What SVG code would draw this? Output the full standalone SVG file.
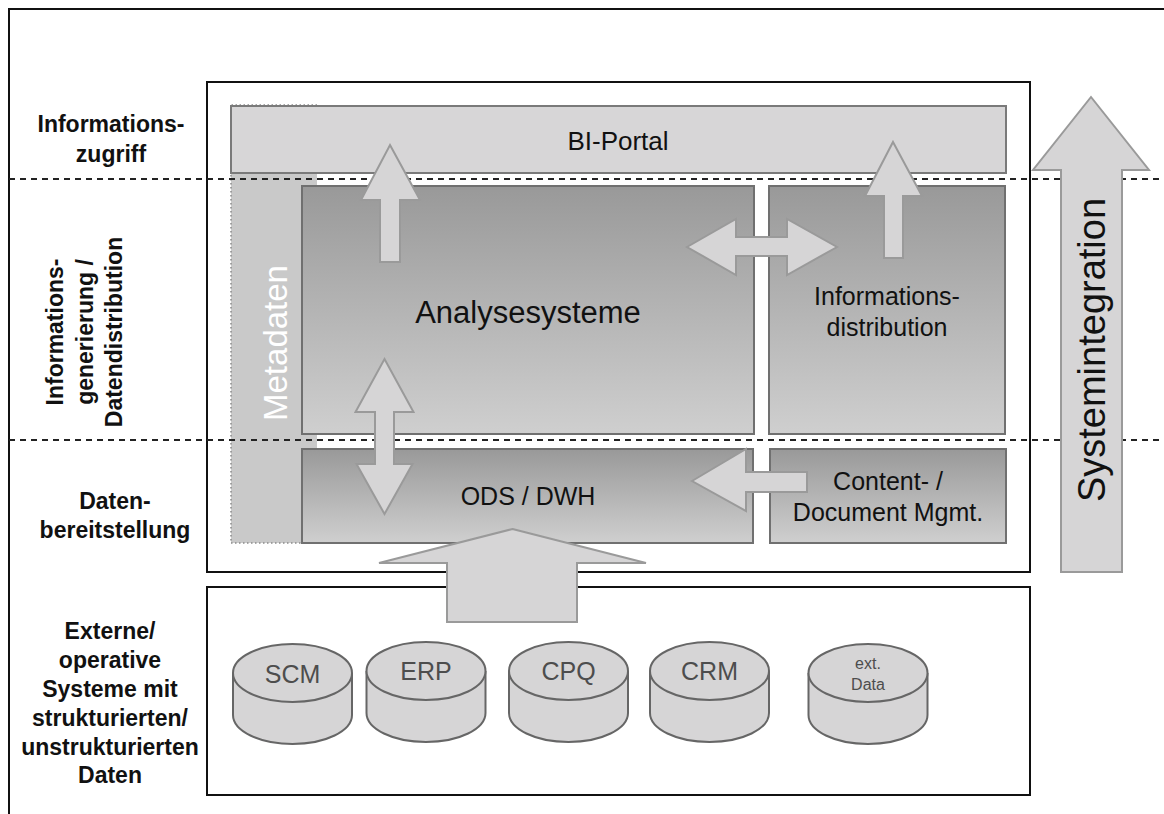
<svg xmlns="http://www.w3.org/2000/svg" width="1164" height="814" viewBox="0 0 1164 814">
<defs>
<linearGradient id="g" x1="0" y1="0" x2="0" y2="1">
<stop offset="0" stop-color="#999999"/>
<stop offset="1" stop-color="#cfcfcf"/>
</linearGradient>
<style>
text{font-family:"Liberation Sans",Arial,Helvetica,sans-serif;fill:#111}
.frame{fill:none;stroke:#111;stroke-width:2}
.box{fill:url(#g);stroke:#707070;stroke-width:2}
.portal{fill:#d7d6d7;stroke:#7a7a7a;stroke-width:2}
.arrow{fill:#d6d5d6;stroke:#9a9a9a;stroke-width:2;stroke-linejoin:miter}
.dash{stroke:#222;stroke-width:2;stroke-dasharray:6 5;fill:none}
.lbl{font-weight:bold;font-size:23px;text-anchor:middle}
.c{font-size:25px;text-anchor:middle}
.cyl{fill:#d6d5d6;stroke:#666;stroke-width:2}
.cyt{font-size:25px;text-anchor:middle;fill:#4d4d4d}
</style>
</defs>
<rect width="1164" height="814" fill="#fff"/>
<g id="frame">
<path class="frame" d="M9,814 V9 H1164"/>
</g>
<g id="main-box"><rect class="frame" x="207" y="82" width="823" height="490"/></g>
<g id="source-box"><rect class="frame" x="207" y="587" width="823" height="208"/></g>
<g id="metadaten">
<rect x="231" y="105" width="86" height="438" fill="#c9c9c9"/>
<path d="M317,105 H231 V543 H317" fill="none" stroke="#8a8a8a" stroke-width="1.5" stroke-dasharray="1.5 2.5"/>
</g>
<g id="bi-portal">
<rect class="portal" x="231" y="106" width="775" height="67"/>
<text class="c" x="618" y="150" style="font-size:26px">BI-Portal</text>
</g>
<g id="analysesysteme">
<rect class="box" x="302" y="186" width="452" height="248"/>
<text x="528" y="323" style="font-size:31px;text-anchor:middle">Analysesysteme</text>
</g>
<g id="informationsdistribution">
<rect class="box" x="769" y="186" width="236" height="248"/>
<text class="c" x="887" y="305">Informations-</text>
<text class="c" x="887" y="336">distribution</text>
</g>
<g id="ods-dwh">
<rect class="box" x="302" y="449" width="451" height="94"/>
<text class="c" x="528" y="505">ODS / DWH</text>
</g>
<g id="content-mgmt">
<rect class="box" x="770" y="449" width="236" height="94"/>
<text class="c" x="888" y="490">Content- /</text>
<text class="c" x="888" y="521">Document Mgmt.</text>
</g>
<g id="metadaten-label">
<text transform="translate(287,343) rotate(-90)" style="font-size:33px;text-anchor:middle;fill:#fff">Metadaten</text>
</g>
<g id="dividers">
<line class="dash" x1="9" y1="179" x2="1164" y2="179"/>
<line class="dash" x1="9" y1="440" x2="1164" y2="440"/>
</g>
<g id="scm">
<path class="cyl" d="M233,673 V715 A59.5,29 0 0 0 352,715 V673"/>
<ellipse class="cyl" cx="292.5" cy="673" rx="59.5" ry="29"/>
<text class="cyt" x="292.5" y="683">SCM</text>
</g>
<g id="erp">
<path class="cyl" d="M366.5,671 V713 A59.5,29 0 0 0 485.5,713 V671"/>
<ellipse class="cyl" cx="426" cy="671" rx="59.5" ry="29"/>
<text class="cyt" x="426" y="680">ERP</text>
</g>
<g id="cpq">
<path class="cyl" d="M509,671 V713 A59.5,29 0 0 0 628,713 V671"/>
<ellipse class="cyl" cx="568.5" cy="671" rx="59.5" ry="29"/>
<text class="cyt" x="568.5" y="680">CPQ</text>
</g>
<g id="crm">
<path class="cyl" d="M650,671 V713 A59.5,29 0 0 0 769,713 V671"/>
<ellipse class="cyl" cx="709.5" cy="671" rx="59.5" ry="29"/>
<text class="cyt" x="709.5" y="680">CRM</text>
</g>
<g id="ext-data">
<path class="cyl" d="M808.5,673 V715 A59.5,29 0 0 0 927.5,715 V673"/>
<ellipse class="cyl" cx="868" cy="673" rx="59.5" ry="29"/>
<text class="cyt" x="868" y="669" style="font-size:16px">ext.</text>
<text class="cyt" x="868" y="690" style="font-size:16px">Data</text>
</g>
<g id="connectors">
<path class="arrow" d="M390,145 L420,200 L400,200 L400,262 L380,262 L380,200 L361,200 Z"/>
<path class="arrow" d="M893,142 L922,196 L903,196 L903,258 L884,258 L884,196 L865,196 Z"/>
<path class="arrow" d="M687,247 L736,219 L736,237 L787,237 L787,219 L837,247 L787,275 L787,256 L736,256 L736,275 Z"/>
<path class="arrow" d="M384.5,359 L413.5,412 L394,412 L394,464 L412.5,464 L384.5,514 L356.5,464 L375,464 L375,412 L355.5,412 Z"/>
<path class="arrow" d="M692,481 L746,449 L746,472 L807,472 L807,492 L746,492 L746,511 Z"/>
<path class="arrow" d="M512.5,529 L646,563 L577,563 L577,622 L447,622 L447,563 L379,563 Z"/>
<path class="arrow" d="M1091,97 L1149,170 L1122,170 L1122,572 L1061,572 L1061,170 L1033,170 Z"/>
</g>
<g id="systemintegration-label">
<text transform="translate(1105,350) rotate(-90)" style="font-size:38px;text-anchor:middle">Systemintegration</text>
</g>
<g id="layer-labels">
<text class="lbl" x="111" y="132">Informations-</text>
<text class="lbl" x="111" y="162">zugriff</text>
<g transform="translate(63,332) rotate(-90)">
<text class="lbl" x="0" y="0">Informations-</text>
<text class="lbl" x="0" y="29.5">generierung /</text>
<text class="lbl" x="0" y="59">Datendistribution</text>
</g>
<text class="lbl" x="115" y="509">Daten-</text>
<text class="lbl" x="115" y="538">bereitstellung</text>
<text class="lbl" x="110" y="639">Externe/</text>
<text class="lbl" x="110" y="668">operative</text>
<text class="lbl" x="110" y="697">Systeme mit</text>
<text class="lbl" x="110" y="726">strukturierten/</text>
<text class="lbl" x="110" y="755">unstrukturierten</text>
<text class="lbl" x="110" y="783">Daten</text>
</g>
</svg>
